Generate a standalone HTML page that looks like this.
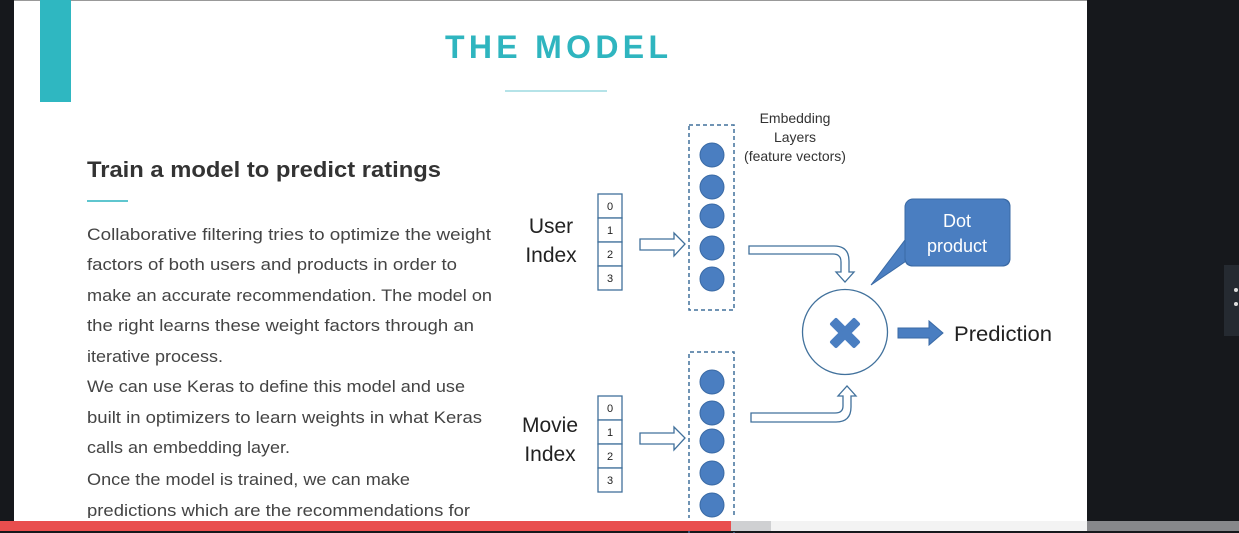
<!DOCTYPE html>
<html><head><meta charset="utf-8"><style>
html,body{margin:0;padding:0;width:1239px;height:533px;overflow:hidden;background:#16181c}
svg{display:block}
</style></head><body>
<svg width="1239" height="533" xmlns="http://www.w3.org/2000/svg" font-family="Liberation Sans, sans-serif">
<rect x="0" y="0" width="1239" height="533" fill="#16181c"/>
<rect x="14" y="0" width="1073" height="521" fill="#fff"/>
<rect x="14" y="0" width="1073" height="1" fill="#999"/>
<rect x="40" y="0" width="31" height="102" fill="#2fb7c1"/>
<text x="445" y="58" font-size="32" font-weight="bold" fill="#2fb5bf" textLength="223" lengthAdjust="spacing">THE MODEL</text>
<rect x="505" y="90" width="102" height="2" fill="#b5e3e8"/>
<text x="87" y="177" font-size="22" font-weight="bold" fill="#333" textLength="354" lengthAdjust="spacingAndGlyphs">Train a model to predict ratings</text>
<rect x="87" y="200" width="41" height="2" fill="#5fc6cf"/>
<g font-size="17" fill="#444">
<text x="87" y="240" textLength="404" lengthAdjust="spacingAndGlyphs">Collaborative filtering tries to optimize the weight</text>
<text x="87" y="270" textLength="370" lengthAdjust="spacingAndGlyphs">factors of both users and products in order to</text>
<text x="87" y="301" textLength="405" lengthAdjust="spacingAndGlyphs">make an accurate recommendation. The model on</text>
<text x="87" y="331" textLength="387" lengthAdjust="spacingAndGlyphs">the right learns these weight factors through an</text>
<text x="87" y="362" textLength="136" lengthAdjust="spacingAndGlyphs">iterative process.</text>
<text x="87" y="392" textLength="378" lengthAdjust="spacingAndGlyphs">We can use Keras to define this model and use</text>
<text x="87" y="423" textLength="395" lengthAdjust="spacingAndGlyphs">built in optimizers to learn weights in what Keras</text>
<text x="87" y="453" textLength="203" lengthAdjust="spacingAndGlyphs">calls an embedding layer.</text>
<text x="87" y="485" textLength="323" lengthAdjust="spacingAndGlyphs">Once the model is trained, we can make</text>
<text x="87" y="516" textLength="383" lengthAdjust="spacingAndGlyphs">predictions which are the recommendations for</text>
</g>
<g font-size="14" fill="#333" text-anchor="middle">
<text x="795" y="123">Embedding</text><text x="795" y="142">Layers</text><text x="795" y="161">(feature vectors)</text>
</g>
<g font-size="21" fill="#222" text-anchor="middle">
<text x="551" y="233">User</text><text x="551" y="262">Index</text>
<text x="550" y="432">Movie</text><text x="550" y="461">Index</text>
</g>
<g stroke="#41719c" stroke-width="1.3" fill="#fff">
<rect x="598" y="194" width="24" height="24"/><rect x="598" y="218" width="24" height="24"/><rect x="598" y="242" width="24" height="24"/><rect x="598" y="266" width="24" height="24"/>
<rect x="598" y="396" width="24" height="24"/><rect x="598" y="420" width="24" height="24"/><rect x="598" y="444" width="24" height="24"/><rect x="598" y="468" width="24" height="24"/>
</g>
<g font-size="11" fill="#222" text-anchor="middle">
<text x="610" y="210">0</text><text x="610" y="234">1</text><text x="610" y="258">2</text><text x="610" y="282">3</text>
<text x="610" y="412">0</text><text x="610" y="436">1</text><text x="610" y="460">2</text><text x="610" y="484">3</text>
</g>
<g stroke="#41719c" stroke-width="1.5" fill="none" stroke-dasharray="4,3">
<rect x="689" y="125" width="45" height="185"/>
<path d="M689 540 V352 H734 V540"/>
</g>
<g fill="#4a7ec1" stroke="#3a6aa5" stroke-width="1">
<circle cx="712" cy="155" r="12"/><circle cx="712" cy="187" r="12"/><circle cx="712" cy="216" r="12"/><circle cx="712" cy="248" r="12"/><circle cx="712" cy="279" r="12"/>
<circle cx="712" cy="382" r="12"/><circle cx="712" cy="413" r="12"/><circle cx="712" cy="441" r="12"/><circle cx="712" cy="473" r="12"/><circle cx="712" cy="505" r="12"/>
</g>
<rect x="14" y="518" width="1073" height="3" fill="#fff"/>
<g stroke="#41719c" stroke-width="1.3" fill="#fff">
<path d="M640 239 H674 V233 L685 244 L674 256 V250 H640 Z"/>
<path d="M640 433 H674 V427 L685 438 L674 450 V444 H640 Z"/>
<path d="M749 246 H834 Q849 246 849 261 V272 H854 L845 282 L836 272 H841 V262 Q841 254 833 254 H749 Z"/>
<path d="M751 422 H836 Q851 422 851 407 V396 H856 L847 386 L838 396 H843 V406 Q843 413 835 413 H751 Z"/>
<circle cx="845" cy="332" r="42.5"/>
</g>
<path d="M836 320 L845 329 L854 320 L858 324 L849 333 L858 342 L854 346 L845 337 L836 346 L832 342 L841 333 L832 324 Z" fill="#4a7ec1" stroke="#4a7ec1" stroke-width="4" stroke-linejoin="round"/>
<path d="M898 328 H929 V321 L943 333 L929 345 V338 H898 Z" fill="#4a7ec1" stroke="#3a6aa5"/>
<text x="954" y="341" font-size="21" fill="#222" textLength="98" lengthAdjust="spacingAndGlyphs">Prediction</text>
<path d="M913 199 H1002 Q1010 199 1010 207 V258 Q1010 266 1002 266 H913 Q905 266 905 258 V240 L871 285 L912 257 Z" fill="#4a7ec1" stroke="#3a6aa5"/>
<rect x="905" y="199" width="105" height="67" rx="8" fill="#4a7ec1" stroke="#3a6aa5"/>
<g font-size="18" fill="#fff" text-anchor="middle"><text x="957" y="227">Dot</text><text x="957" y="252">product</text></g>
<rect x="0" y="521" width="731" height="10" fill="#e94e4e"/>
<rect x="731" y="521" width="40" height="10" fill="#cfd0d2"/>
<rect x="771" y="521" width="316" height="10" fill="#f3f3f3"/>
<rect x="1087" y="521" width="152" height="10" fill="#87888b"/>
<rect x="1224" y="265" width="15" height="71" fill="#252a31"/>
<circle cx="1236" cy="290" r="2" fill="#ddd"/><circle cx="1236" cy="304" r="2" fill="#ddd"/>
</svg>
</body></html>
